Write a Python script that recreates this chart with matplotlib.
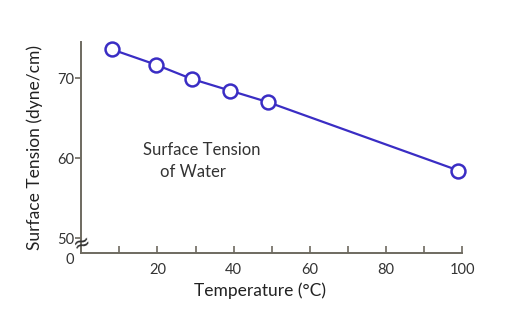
import matplotlib
matplotlib.use("Agg")
from matplotlib import pyplot as plt

plt.rcParams['font.family'] = ['Lato', 'DejaVu Sans']

# temperature (°C) vs surface tension (dyne/cm)
temps = [8, 19.5, 29, 39, 49, 99]
tension = [73.6, 71.7, 69.9, 68.45, 67.0, 58.45]

x_ticks = [10, 20, 30, 40, 50, 60, 70, 80, 90, 100]
x_labels = ["", "20", "", "40", "", "60", "", "80", "", "100"]
y_ticks = [48.1, 50, 60, 70]
y_labels = ["0", "50", "60", "70"]

line_col = "#3a2dc4"
axis_col = "#6e6a60"

fig = plt.figure(figsize=(5.26, 3.31), dpi=100)
ax = fig.add_axes([0.1544, 0.2347, 0.7245, 0.638])

ax.plot(temps, tension, color=line_col, lw=1.6, marker="o", ms=10,
        mfc="white", mec=line_col, mew=1.8, zorder=3, clip_on=False)

ax.set_xlim(0, 100)
ax.set_ylim(48.1, 74.5)

for s in ["top", "right"]:
    ax.spines[s].set_visible(False)
for s in ["left", "bottom"]:
    ax.spines[s].set_color(axis_col)
    ax.spines[s].set_linewidth(1.4)

ax.set_xticks(x_ticks)
ax.set_xticklabels(x_labels)
ax.set_yticks(y_ticks)
ax.set_yticklabels(y_labels)
ax.tick_params(axis="x", direction="in", length=5, width=1.2, color=axis_col,
               labelsize=10.5, pad=7, labelcolor="#333333")
ax.tick_params(axis="y", direction="out", length=4, width=1.2, color=axis_col,
               labelsize=10.5, pad=1, labelcolor="#333333")
# no tick mark for the "0" at the bottom
ax.yaxis.get_major_ticks()[0].tick1line.set_visible(False)
ax.yaxis.get_major_ticks()[0].label1.set_va("top")

# axis break mark
ax.text(0.3, 49.4, "≈", transform=ax.transData, ha="center", va="center",
        fontsize=15, rotation=20, color="#333333", family="DejaVu Sans",
        clip_on=False, zorder=4)

ax.set_xlabel("Temperature (°C)", fontsize=12.5, color="#222222", labelpad=4)
ax.xaxis.label.set_x(0.468)
ax.set_ylabel("Surface Tension (dyne/cm)", fontsize=12.5, color="#222222",
              labelpad=10)

ax.text(31.7, 61.0, "Surface Tension", ha="center", va="center",
        fontsize=12, color="#333333")
ax.text(29.3, 58.3, "of Water", ha="center", va="center",
        fontsize=12, color="#333333")

fig.savefig("out.png", dpi=100)
